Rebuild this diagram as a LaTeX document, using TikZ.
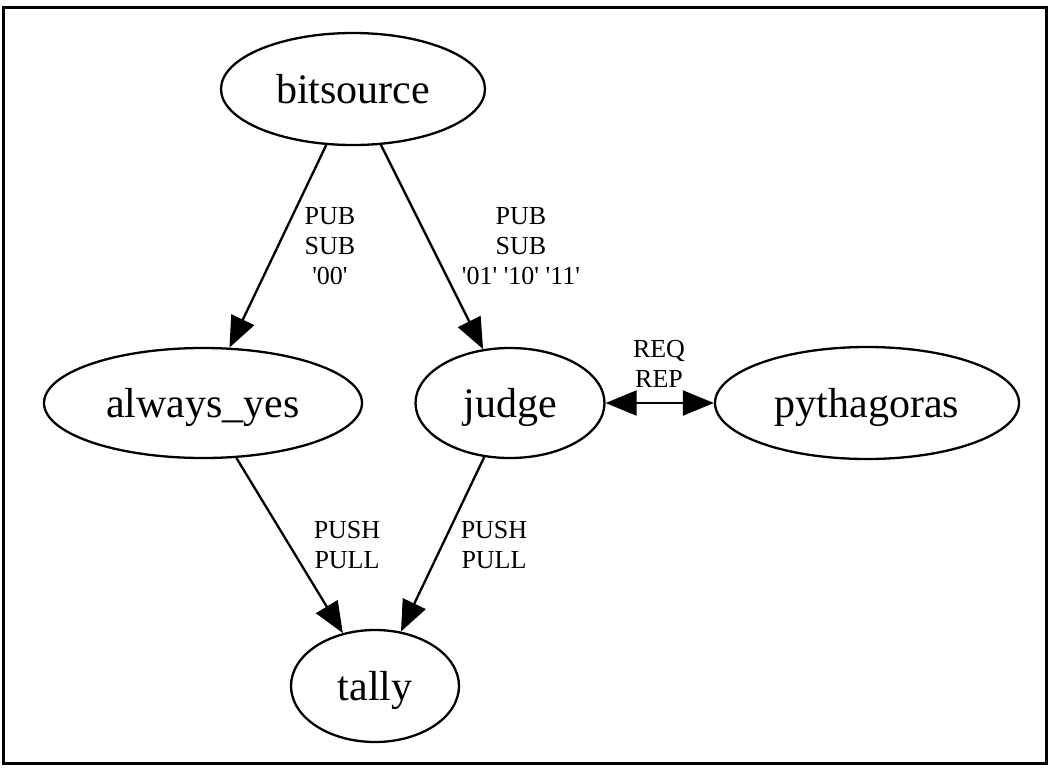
\documentclass[tikz,border=0pt]{standalone}
\usepackage{fontspec}
\setmainfont{Liberation Serif}
\usetikzlibrary{shapes.geometric,arrows.meta}
\newcommand{\sq}{\textquotesingle}
\begin{document}
\begin{tikzpicture}[x=1pt,y=-1pt,
  vtx/.style={draw,ellipse,line width=2.3pt,inner sep=0pt,
    font=\fontsize{42}{48}\selectfont,text height=28pt,text depth=0pt},
  lbl/.style={align=center,inner sep=0pt,font=\fontsize{26}{30}\selectfont},
  conn/.style={line width=2.3pt,-{Triangle[length=31pt,width=25pt]}},
  biconn/.style={line width=2.3pt,{Triangle[length=31pt,width=25pt]}-{Triangle[length=31pt,width=25pt]}},
  ]
\useasboundingbox (0,0) rectangle (1054,772);
\draw[line width=3pt] (3,7) rectangle (1046,763);

\node[vtx,minimum width=264pt,minimum height=112pt] (bitsource) at (353,89) {bitsource};
\node[vtx,minimum width=318pt,minimum height=110pt] (always) at (203,403) {always\_yes};
\node[vtx,minimum width=189pt,minimum height=110pt] (judge) at (510,403) {judge};
\node[vtx,minimum width=304pt,minimum height=112pt] (pyth) at (867,403) {pythagoras};
\node[vtx,minimum width=168pt,minimum height=112pt] (tally) at (375,686) {tally};

\draw[conn] (bitsource) -- (always);
\draw[conn] (bitsource) -- (judge);
\draw[conn] (always) -- (tally);
\draw[conn] (judge) -- (tally);
\draw[biconn] (judge.east) -- (pyth.west);

\node[lbl] (l1) at (330,246) {PUB\\SUB\\\sq 00\sq};
\node[lbl] (l2) at (521,246) {PUB\\SUB\\\sq 01\sq{} \sq 10\sq{} \sq 11\sq};
\node[lbl] (l3) at (659,364) {REQ\\REP};
\node[lbl] (l4) at (347,545) {PUSH\\PULL};
\node[lbl] (l5) at (494,545) {PUSH\\PULL};
\end{tikzpicture}
\end{document}
